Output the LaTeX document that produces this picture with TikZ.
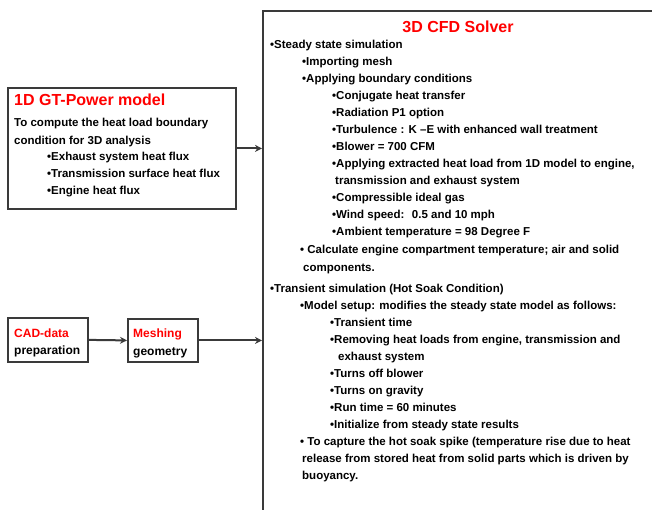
\documentclass[tikz,border=0pt]{standalone}
\usepackage{fontspec}
\setmainfont{Liberation Sans}
\usetikzlibrary{arrows.meta,calc}
\definecolor{linegray}{HTML}{3A3A3A}
\begin{document}
\begin{tikzpicture}[x=1pt,y=-1pt,
  box/.style={draw=linegray,line width=1.8pt,inner sep=0,fill=white},
  txt/.style={anchor=base west,inner sep=0,font=\bfseries\fontsize{11.5}{13}\selectfont},
  btxt/.style={txt,font=\bfseries\fontsize{12}{14}\selectfont},
  rtxt/.style={btxt,text=red},
  ttl/.style={anchor=base west,inner sep=0,text=red,font=\bfseries\fontsize{16}{18}\selectfont},
  arr/.style={draw=linegray,line width=2pt,-{Stealth[length=7pt,width=7pt]}}]
\useasboundingbox (0,0) rectangle (652,510);
\clip (0,0) rectangle (652,510);
% boxes
\node[box,anchor=north west,minimum width=228pt,minimum height=121pt] (gt) at (7,87) {};
\node[box,anchor=north west,minimum width=80pt,minimum height=44pt] (cad) at (7,317) {};
\node[box,anchor=north west,minimum width=70pt,minimum height=43pt] (mesh) at (127,318) {};
\node[box,anchor=north west,minimum width=420pt,minimum height=520pt] (solver) at (262,10) {};
% arrows
\draw[arr] (gt.east) -- (gt.east -| solver.west);
\draw[arr] (cad.east) -- (mesh.west);
\draw[arr] (mesh.east) -- (mesh.east -| solver.west);
% 1D box text
\node[ttl] (gtt) at (14,106) {1D GT-Power model};
\node[txt] (g1) at (14,127) {To compute the heat load boundary};
\node[txt] (g2) at (14,145) {condition for 3D analysis};
\node[txt] (g3) at (47,161) {•Exhaust system heat flux};
\node[txt] (g4) at (47,178) {•Transmission surface heat flux};
\node[txt] (g5) at (47,195) {•Engine heat flux};
% CAD / meshing
\node[rtxt] (c1) at (14,337) {CAD-data};
\node[btxt] (c2) at (14,354) {preparation};
\node[rtxt] (m1) at (133,337) {Meshing};
\node[btxt] (m2) at (133,355) {geometry};
% solver text
\node[ttl,anchor=base] (st) at (458,33) {3D CFD Solver};
\node[txt] (l1) at (270,49) {•Steady state simulation};
\node[txt] (l2) at (302,66) {•Importing mesh};
\node[txt] (l3) at (302,83) {•Applying boundary conditions};
\node[txt] (l4) at (332,100) {•Conjugate heat transfer};
\node[txt] (l5) at (332,117) {•Radiation P1 option};
\node[txt] (l6) at (332,134) {•Turbulence : K –E with enhanced wall treatment};
\node[txt] (l7) at (332,151) {•Blower = 700 CFM};
\node[txt] (l8) at (332,168) {•Applying extracted heat load from 1D model to engine,};
\node[txt] (l9) at (335,185) {transmission and exhaust system};
\node[txt] (l10) at (332,202) {•Compressible ideal gas};
\node[txt] (l11) at (332,219) {•Wind speed:~ 0.5 and 10 mph};
\node[txt] (l12) at (332,236) {•Ambient temperature = 98 Degree F};
\node[txt] (l13) at (300,254) {• Calculate engine compartment temperature; air and solid};
\node[txt] (l14) at (303,271) {components.};
\node[txt] (l15) at (270,292) {•Transient simulation (Hot Soak Condition)};
\node[txt] (l16) at (300,309) {•Model setup: modifies the steady state model as follows:};
\node[txt] (l17) at (330,326) {•Transient time};
\node[txt] (l18) at (330,343) {•Removing heat loads from engine, transmission and};
\node[txt] (l19) at (338,360) {exhaust system};
\node[txt] (l20) at (330,377) {•Turns off blower};
\node[txt] (l21) at (330,394) {•Turns on gravity};
\node[txt] (l22) at (330,411) {•Run time = 60 minutes};
\node[txt] (l23) at (330,428) {•Initialize from steady state results};
\node[txt] (l24) at (300,445) {• To capture the hot soak spike (temperature rise due to heat};
\node[txt] (l25) at (302,462) {release from stored heat from solid parts which is driven by};
\node[txt] (l26) at (302,479) {buoyancy.};
\end{tikzpicture}
\end{document}
